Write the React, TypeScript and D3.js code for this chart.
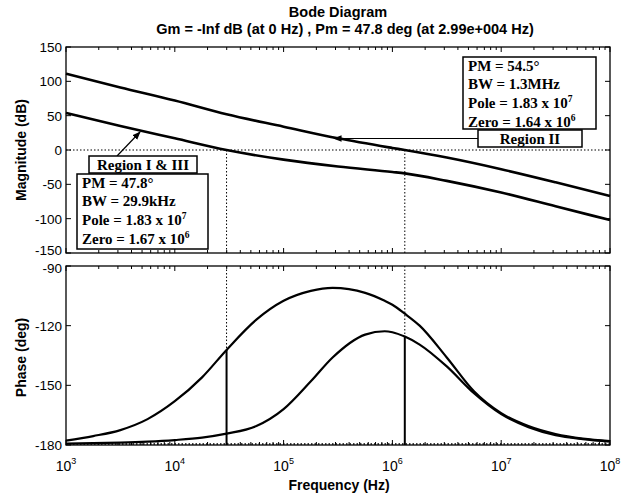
import React, { useEffect, useRef } from "react";
import * as d3 from "d3";

// magnitude readings (dB)
const magFreqs = [1e3, 3.16e3, 1e4, 2.99e4, 1e5, 3.16e5, 1e6, 1.3e6, 3.16e6, 1e7, 3.16e7, 1e8];
const magRegion13 = [54, 35, 17, 0, -14, -24, -32, -34, -45, -62, -82, -102];
const magRegion2 = [111, 91, 72, 52, 34, 17, 3, 0, -11, -28, -47, -67];

// phase readings (deg)
const phaseFreqs = [
  1e3, 1.78e3, 3.16e3, 5.62e3, 1e4, 1.78e4, 2.99e4, 5.62e4, 1e5, 1.78e5, 2.82e5, 5.62e5,
  8.5e5, 1e6, 1.3e6, 1.78e6, 3.16e6, 5.62e6, 1e7, 1.78e7, 3.16e7, 5.62e7, 1e8,
];
const phaseRegion13 = [
  -177.8, -175.5, -172.5, -167, -158, -146, -132.2, -117, -107.5, -102.5, -101, -103.5,
  -107.5, -109.5, -114, -120, -136, -153, -164, -170.5, -174.5, -176.8, -178,
];
const phaseRegion2 = [
  -179.3, -179.1, -178.8, -178.3, -177.5, -176.3, -174.3, -170.5, -162, -148, -136, -124.5,
  -122.8, -123.3, -125.5, -129.5, -140.5, -154, -164.5, -171, -175, -177, -178.3,
];

// crossover frequencies and phase margins (Region I & III, Region II)
const crossFreqs = [2.99e4, 1.3e6];
const phaseMargins = [47.8, 54.5];

const magTicks = [150, 100, 50, 0, -50, -100, -150];
const phaseTicks = [-90, -120, -150, -180];
const decadeExps = [3, 4, 5, 6, 7, 8];

const box13Lines = [
  ["PM = 47.8°", ""],
  ["BW = 29.9kHz", ""],
  ["Pole = 1.83 x 10", "7"],
  ["Zero = 1.67 x 10", "6"],
];
const box2Lines = [
  ["PM = 54.5°", ""],
  ["BW = 1.3MHz", ""],
  ["Pole = 1.83 x 10", "7"],
  ["Zero = 1.64 x 10", "6"],
];

export default function App() {
  const svgRef = useRef(null);

  useEffect(() => {
    const svg = d3.select(svgRef.current);
    svg.selectAll("*").remove();

    const W = 628;
    const H = 495;
    const left = 66;
    const right = 610;
    const magTop = 47;
    const magBot = 253;
    const phTop = 266;
    const phBot = 445;
    const sans = "Arial, 'Liberation Sans', Helvetica, sans-serif";
    const serif = "'Liberation Serif', 'Times New Roman', serif";

    svg.attr("width", W).attr("height", H);
    svg.append("rect").attr("width", W).attr("height", H).attr("fill", "#fff");

    const x = d3.scaleLog().domain([1e3, 1e8]).range([left, right]);
    const yMag = d3.scaleLinear().domain([-150, 150]).range([magBot, magTop]);
    const yPh = d3.scaleLinear().domain([-180, -90]).range([phBot, phTop]);

    const minorTicks = [];
    for (let e = 3; e < 8; e++) {
      for (let m = 1; m < 10; m++) minorTicks.push(m * Math.pow(10, e));
    }
    minorTicks.push(1e8);

    // nudge for the two labels that meet between the panels
    const labelShift = (t) => (t === -150 && magTicks.includes(t) ? -2 : 0);

    const drawFrame = (top, bot, yScale, ticks, shiftFn) => {
      const g = svg.append("g");
      g.append("rect")
        .attr("x", left)
        .attr("y", top)
        .attr("width", right - left)
        .attr("height", bot - top)
        .attr("fill", "none")
        .attr("stroke", "#000")
        .attr("stroke-width", 1.3);
      minorTicks.forEach((f) => {
        const major = Math.abs(Math.log10(f) - Math.round(Math.log10(f))) < 1e-6;
        const len = major ? 5 : 3;
        const xx = x(f);
        g.append("line").attr("x1", xx).attr("x2", xx).attr("y1", top).attr("y2", top + len).attr("stroke", "#000");
        g.append("line").attr("x1", xx).attr("x2", xx).attr("y1", bot).attr("y2", bot - len).attr("stroke", "#000");
      });
      ticks.forEach((t) => {
        const yy = yScale(t);
        g.append("line").attr("x1", left).attr("x2", left + 5).attr("y1", yy).attr("y2", yy).attr("stroke", "#000");
        g.append("line").attr("x1", right).attr("x2", right - 5).attr("y1", yy).attr("y2", yy).attr("stroke", "#000");
        g.append("text")
          .attr("x", left - 4)
          .attr("y", yy + shiftFn(t))
          .attr("dy", "0.36em")
          .attr("text-anchor", "end")
          .attr("font-family", sans)
          .attr("font-size", 13.5)
          .text(t);
      });
    };

    drawFrame(magTop, magBot, yMag, magTicks, (t) => (t === -150 ? -3 : 0));
    drawFrame(phTop, phBot, yPh, phaseTicks, (t) => (t === -90 ? 2 : 0));

    // reference lines
    svg.append("line")
      .attr("x1", left).attr("x2", right)
      .attr("y1", yMag(0)).attr("y2", yMag(0))
      .attr("stroke", "#000").attr("stroke-dasharray", "1.5,2");
    svg.append("line")
      .attr("x1", left).attr("x2", right)
      .attr("y1", yPh(-180) - 1).attr("y2", yPh(-180) - 1)
      .attr("stroke", "#000").attr("stroke-width", 1.5).attr("stroke-dasharray", "1.5,2");

    crossFreqs.forEach((f, i) => {
      const xx = x(f);
      const ph = -180 + phaseMargins[i];
      svg.append("line")
        .attr("x1", xx).attr("x2", xx)
        .attr("y1", yMag(0)).attr("y2", magBot)
        .attr("stroke", "#000").attr("stroke-dasharray", "1.5,2");
      svg.append("line")
        .attr("x1", xx).attr("x2", xx)
        .attr("y1", phTop).attr("y2", yPh(ph))
        .attr("stroke", "#000").attr("stroke-dasharray", "1.5,2");
      svg.append("line")
        .attr("x1", xx).attr("x2", xx)
        .attr("y1", yPh(ph)).attr("y2", phBot)
        .attr("stroke", "#000").attr("stroke-width", 2);
    });

    const magLine = d3.line().x((d) => x(d[0])).y((d) => yMag(d[1])).curve(d3.curveMonotoneX);
    const phLine = d3.line().x((d) => x(d[0])).y((d) => yPh(d[1])).curve(d3.curveMonotoneX);

    [magRegion13, magRegion2].forEach((vals) => {
      svg.append("path")
        .datum(magFreqs.map((f, i) => [f, vals[i]]))
        .attr("d", magLine)
        .attr("fill", "none")
        .attr("stroke", "#000")
        .attr("stroke-width", 2.6);
    });
    [phaseRegion13, phaseRegion2].forEach((vals) => {
      svg.append("path")
        .datum(phaseFreqs.map((f, i) => [f, vals[i]]))
        .attr("d", phLine)
        .attr("fill", "none")
        .attr("stroke", "#000")
        .attr("stroke-width", 2.2);
    });

    // arrows
    const defs = svg.append("defs");
    defs.append("marker")
      .attr("id", "arr")
      .attr("viewBox", "0 0 10 10")
      .attr("refX", 9)
      .attr("refY", 5)
      .attr("markerWidth", 7)
      .attr("markerHeight", 7)
      .attr("orient", "auto")
      .append("path")
      .attr("d", "M0,1 L10,5 L0,9 Z")
      .attr("fill", "#000");

    svg.append("line")
      .attr("x1", 117).attr("y1", 156)
      .attr("x2", 140).attr("y2", 132)
      .attr("stroke", "#000").attr("stroke-width", 1.2)
      .attr("marker-end", "url(#arr)");
    svg.append("line")
      .attr("x1", 478).attr("y1", 138.5)
      .attr("x2", 334).attr("y2", 138.5)
      .attr("stroke", "#000").attr("stroke-width", 1.2)
      .attr("marker-end", "url(#arr)");

    const labelBox = (x0, y0, w, h, txt) => {
      svg.append("rect")
        .attr("x", x0).attr("y", y0).attr("width", w).attr("height", h)
        .attr("fill", "#fff").attr("stroke", "#000").attr("stroke-width", 1.5);
      svg.append("text")
        .attr("x", x0 + w / 2)
        .attr("y", y0 + h / 2)
        .attr("dy", "0.36em")
        .attr("text-anchor", "middle")
        .attr("font-family", serif)
        .attr("font-weight", "bold")
        .attr("font-size", 15)
        .text(txt);
    };

    const infoBox = (x0, y0, w, h, lines) => {
      svg.append("rect")
        .attr("x", x0).attr("y", y0).attr("width", w).attr("height", h)
        .attr("fill", "#fff").attr("stroke", "#000").attr("stroke-width", 1.5);
      lines.forEach((ln, i) => {
        const t = svg.append("text")
          .attr("x", x0 + 5)
          .attr("y", y0 + 13.5 + i * 18.8)
          .attr("font-family", serif)
          .attr("font-weight", "bold")
          .attr("font-size", 15);
        t.append("tspan").text(ln[0]);
        if (ln[1]) t.append("tspan").attr("dy", -6).attr("font-size", 9.5).text(ln[1]);
      });
    };

    labelBox(89, 156, 108, 17, "Region I & III");
    infoBox(77, 174, 131, 75, box13Lines);
    infoBox(463, 57, 133, 72, box2Lines);
    labelBox(478, 130, 104, 17, "Region II");

    // x tick labels
    decadeExps.forEach((e) => {
      const t = svg.append("text")
        .attr("x", x(Math.pow(10, e)))
        .attr("y", 471)
        .attr("text-anchor", "middle")
        .attr("font-family", sans)
        .attr("font-size", 14);
      t.append("tspan").text("10");
      t.append("tspan").attr("dy", -7).attr("font-size", 9).text(e);
    });

    // titles and axis labels
    svg.append("text")
      .attr("x", 338).attr("y", 17)
      .attr("text-anchor", "middle")
      .attr("font-family", sans).attr("font-weight", "bold").attr("font-size", 14.5)
      .text("Bode Diagram");
    svg.append("text")
      .attr("x", 345).attr("y", 34)
      .attr("text-anchor", "middle")
      .attr("font-family", sans).attr("font-weight", "bold").attr("font-size", 14.5)
      .text("Gm = -Inf dB (at 0 Hz) ,  Pm = 47.8 deg (at 2.99e+004 Hz)");
    svg.append("text")
      .attr("x", 339).attr("y", 490)
      .attr("text-anchor", "middle")
      .attr("font-family", sans).attr("font-weight", "bold").attr("font-size", 14)
      .text("Frequency  (Hz)");
    svg.append("text")
      .attr("transform", `translate(26,${(magTop + magBot) / 2}) rotate(-90)`)
      .attr("text-anchor", "middle")
      .attr("font-family", sans).attr("font-weight", "bold").attr("font-size", 14)
      .text("Magnitude (dB)");
    svg.append("text")
      .attr("transform", `translate(26,${(phTop + phBot) / 2 + 2}) rotate(-90)`)
      .attr("text-anchor", "middle")
      .attr("font-family", sans).attr("font-weight", "bold").attr("font-size", 14)
      .text("Phase (deg)");
  }, []);

  return <svg ref={svgRef} style={{ position: "absolute", left: 0, top: 0 }}></svg>;
}
